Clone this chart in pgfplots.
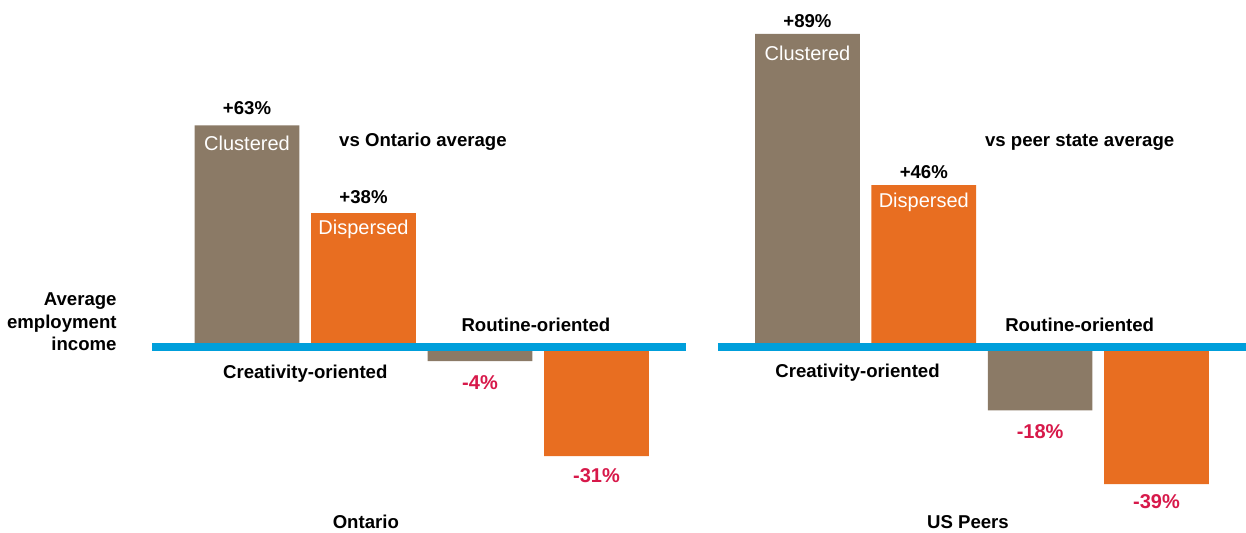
\documentclass[border=0pt]{standalone}
\usepackage{pgfplots}
\pgfplotsset{compat=1.18}
\usepackage{fontspec}
\setmainfont{Liberation Sans}
\definecolor{cbrown}{HTML}{8B7A66}
\definecolor{corange}{HTML}{E86E21}
\definecolor{cblue}{HTML}{009FDB}
\definecolor{cred}{HTML}{D7194A}
\pgfplotsset{
  panel/.style={
    hide axis, scale only axis, clip=false,
    height=266pt, ymin=-52.6, ymax=98.6,
    ybar, bar width=0.9,
  },
}
\tikzset{
  lab/.style={font=\fontsize{9.3}{11.25}\selectfont\bfseries, text=black, inner sep=0pt},
  inl/.style={font=\fontsize{10}{12}\selectfont, text=white, inner sep=0pt},
  neg/.style={font=\fontsize{10}{12}\selectfont\bfseries, text=cred, inner sep=0pt},
}
\begin{document}
\begin{tikzpicture}
\path[use as bounding box] (0,0) rectangle (623pt,266pt);
% Left panel: Ontario
\begin{axis}[panel, width=350pt, xmin=-2.12, xmax=3.888]
\addplot[fill=cbrown, draw=none, bar shift=0pt] coordinates {(0,63) (2,-4)};
\addplot[fill=corange, draw=none, bar shift=0pt] coordinates {(1,38) (3,-31)};
\addplot[sharp plot, cblue, line width=3.6pt, forget plot] coordinates {(-0.815,0) (3.768,0)};
\node[lab] at (axis cs:0,67.9) {+63\%};
\node[inl] at (axis cs:0,58.0) {Clustered};
\node[lab] at (axis cs:1,42.6) {+38\%};
\node[inl] at (axis cs:1,33.5) {Dispersed};
\node[neg] at (axis cs:2,-10.2) {-4\%};
\node[neg] at (axis cs:3,-36.6) {-31\%};
\node[lab] at (axis cs:1.51,58.2) {vs Ontario average};
\node[lab] at (axis cs:2.48,6.25) {Routine-oriented};
\node[lab] at (axis cs:0.50,-7.67) {Creativity-oriented};
\node[lab] at (axis cs:1.02,-49.7) {Ontario};
\node[lab, align=right, anchor=east] at (axis cs:-1.116,7.1) {Average\\employment\\income};
\end{axis}
% Right panel: US Peers
\begin{axis}[panel, width=273pt, xshift=350pt, xmin=-0.924, xmax=3.770]
\addplot[fill=cbrown, draw=none, bar shift=0pt] coordinates {(0,89) (2,-18)};
\addplot[fill=corange, draw=none, bar shift=0pt] coordinates {(1,46) (3,-39)};
\addplot[sharp plot, cblue, line width=3.6pt, forget plot] coordinates {(-0.77,0) (3.77,0)};
\node[lab] at (axis cs:0,92.6) {+89\%};
\node[inl] at (axis cs:0,83.5) {Clustered};
\node[lab] at (axis cs:1,49.7) {+46\%};
\node[inl] at (axis cs:1,41.2) {Dispersed};
\node[neg] at (axis cs:2,-24.1) {-18\%};
\node[neg] at (axis cs:3,-44.0) {-39\%};
\node[lab] at (axis cs:2.34,58.2) {vs peer state average};
\node[lab] at (axis cs:2.34,6.25) {Routine-oriented};
\node[lab] at (axis cs:0.43,-7.4) {Creativity-oriented};
\node[lab] at (axis cs:1.38,-49.7) {US Peers};
\end{axis}
\end{tikzpicture}
\end{document}
